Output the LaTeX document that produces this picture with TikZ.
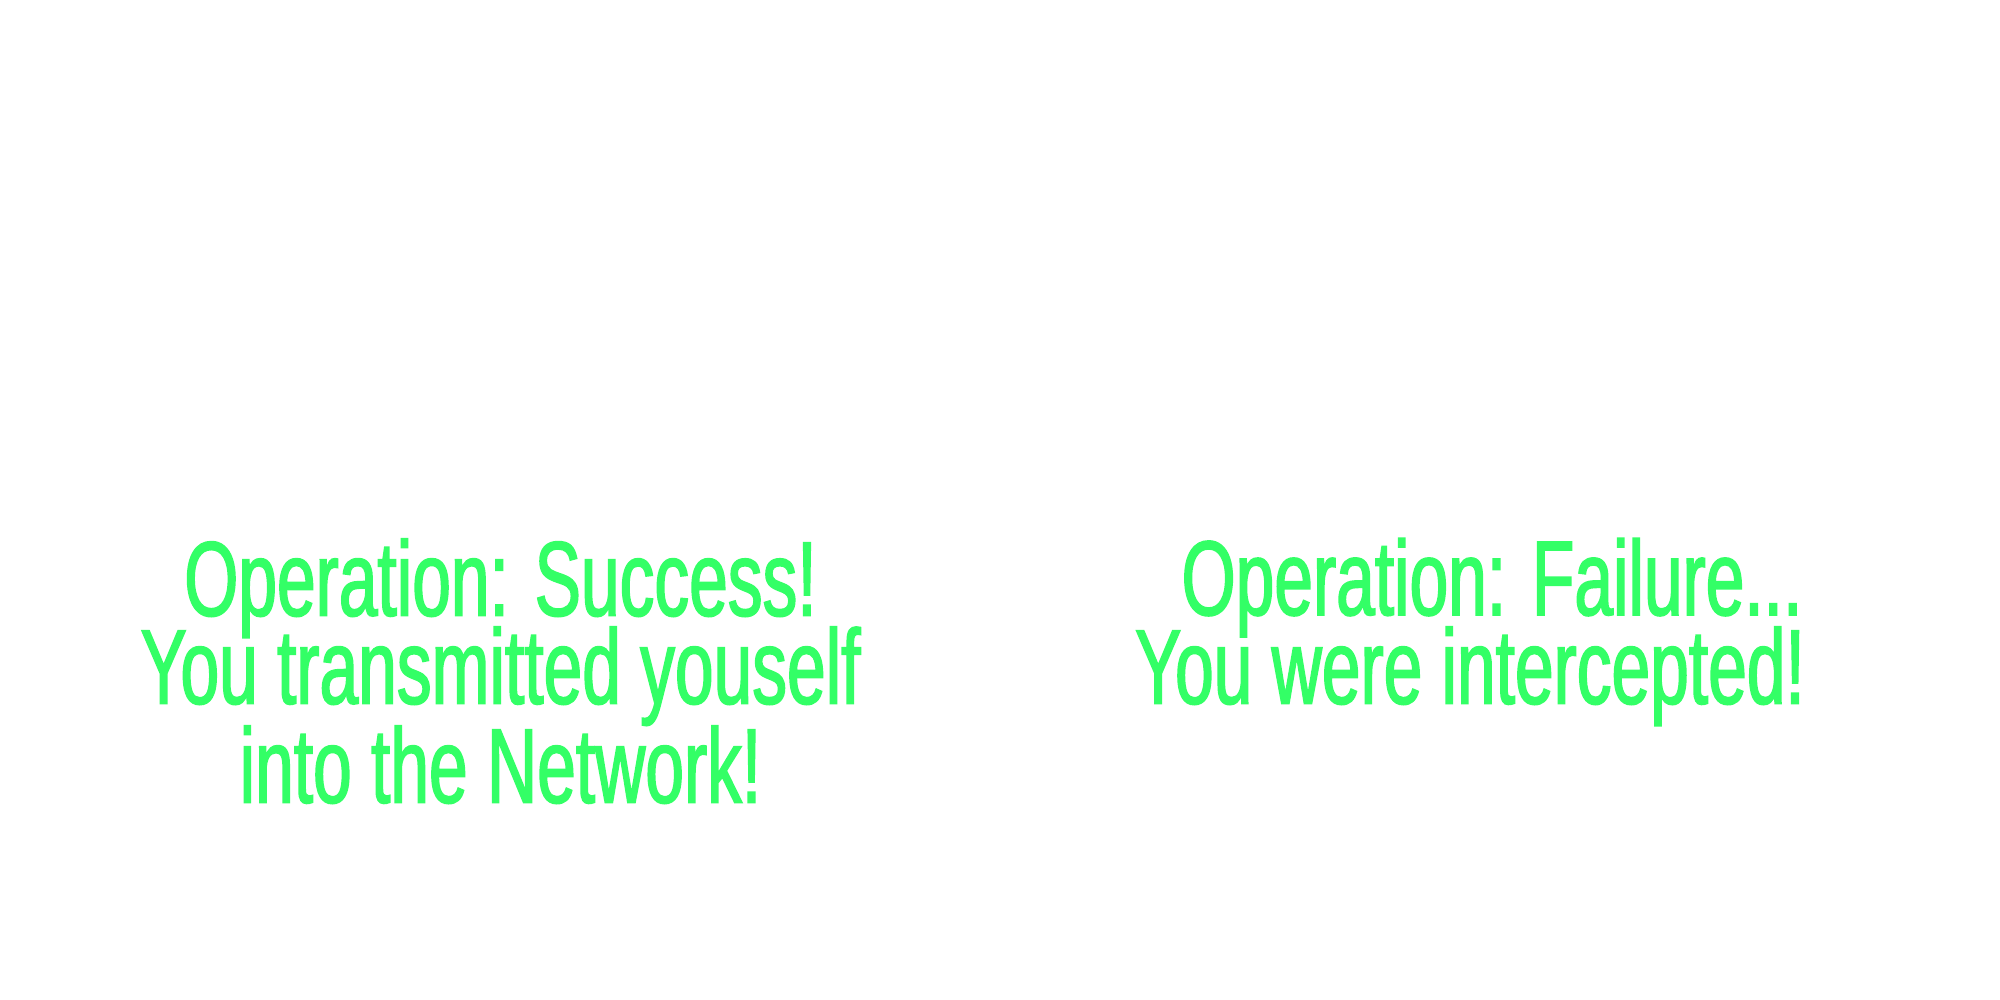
\documentclass[tikz,border=0pt]{standalone}
\usepackage{fontspec}
\newfontfamily\opfont[FakeStretch=0.655,FakeBold=1.5]{Liberation Sans}
\definecolor{opgreen}{RGB}{51,255,102}
\tikzset{
  optext/.style={text=opgreen, font=\opfont\fontsize{30.2}{30}\selectfont,
    inner sep=0pt, anchor=base}
}
\begin{document}
\begin{tikzpicture}
\fill[white] (0,0) rectangle (20,10);
\useasboundingbox (0,0) rectangle (20,10);
\begin{scope}[xshift=5.005cm]
\path
  (0,3.843) node[optext] (success1) {Operation: Success!}
  (0,2.963) node[optext] (success2) {You transmitted youself}
  (0,1.973) node[optext] (success3) {into the Network!};
\end{scope}
\path
  (14.92,3.85) node[optext] (failure1) {Operation: Failure...}
  (14.70,2.963) node[optext] (failure2) {You were intercepted!};
\end{tikzpicture}
\end{document}
